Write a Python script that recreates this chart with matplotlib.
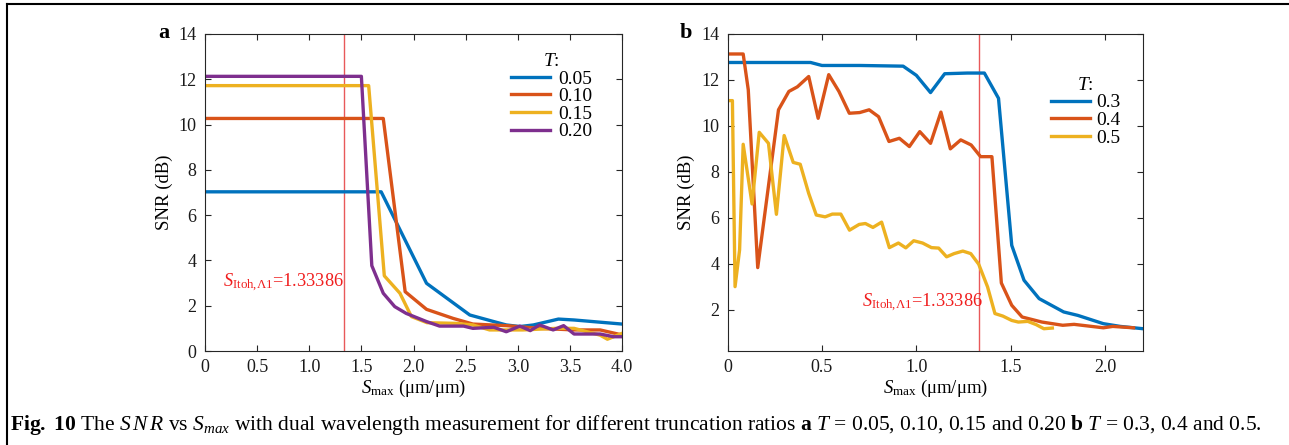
import numpy as np
import matplotlib
matplotlib.use("Agg")
import matplotlib.pyplot as plt
from matplotlib.lines import Line2D

plt.rcParams['font.family'] = ['Liberation Serif', 'DejaVu Serif']
plt.rcParams['mathtext.fontset'] = 'custom'
plt.rcParams['mathtext.rm'] = 'Liberation Serif'
plt.rcParams['mathtext.it'] = 'Liberation Serif:italic'
plt.rcParams['mathtext.bf'] = 'Liberation Serif:bold'

# ---- panel a data: T = 0.05, 0.10, 0.15, 0.20 ----
a_x_005 = [0, 1.69, 2.125, 2.54, 2.77, 2.89, 3.02, 3.15, 3.39, 3.54, 4.0]
a_y_005 = [7.03, 7.03, 2.99, 1.59, 1.30, 1.15, 1.08, 1.15, 1.41, 1.37, 1.19]

a_x_010 = [0, 1.71, 1.92, 2.125, 2.38, 2.57, 2.89, 3.21, 3.54, 3.79, 4.0]
a_y_010 = [10.27, 10.27, 2.62, 1.84, 1.44, 1.19, 1.12, 1.00, 0.93, 0.93, 0.71]

a_x_015 = [0, 1.57, 1.72, 1.87, 1.98, 2.13, 2.41, 2.57, 2.73, 3.05, 3.37,
           3.54, 3.79, 3.86, 4.0]
a_y_015 = [11.72, 11.72, 3.32, 2.55, 1.52, 1.25, 1.22, 1.15, 0.93, 0.93, 1.00,
           1.00, 0.70, 0.52, 0.78]

a_x_020 = [0, 1.50, 1.60, 1.71, 1.82, 1.93, 2.125, 2.25, 2.48, 2.57, 2.77,
           2.89, 3.02, 3.12, 3.21, 3.34, 3.44, 3.54, 3.79, 3.92, 4.0]
a_y_020 = [12.13, 12.13, 3.77, 2.55, 1.96, 1.66, 1.30, 1.10, 1.10, 1.00, 1.05,
           0.85, 1.10, 0.90, 1.15, 0.93, 1.12, 0.75, 0.75, 0.63, 0.63]

# ---- panel b data: T = 0.3, 0.4, 0.5 ----
b_x_03 = [0, 0.44, 0.50, 0.70, 0.93, 1.0, 1.075, 1.15, 1.27, 1.36, 1.435,
          1.505, 1.57, 1.65, 1.78, 1.855, 1.99, 2.08, 2.2]
b_y_03 = [12.76, 12.76, 12.63, 12.63, 12.6, 12.2, 11.45, 12.27, 12.3, 12.3, 11.2,
          4.8, 3.28, 2.48, 1.9, 1.75, 1.39, 1.27, 1.17]

b_x_04 = [0, 0.083, 0.11, 0.16, 0.27, 0.325, 0.37, 0.43, 0.48, 0.536, 0.59,
          0.645, 0.70, 0.75, 0.80, 0.855, 0.91, 0.963, 1.018, 1.075, 1.13,
          1.18, 1.235, 1.29, 1.34, 1.40, 1.45, 1.505, 1.56, 1.665, 1.775,
          1.835, 1.99, 2.04, 2.15]
b_y_04 = [13.13, 13.13, 11.57, 3.83, 10.7, 11.5, 11.7, 12.15, 10.33, 12.23, 11.5,
          10.55, 10.58, 10.7, 10.4, 9.32, 9.46, 9.1, 9.75, 9.24, 10.6,
          9.0, 9.39, 9.17, 8.66, 8.66, 3.16, 2.19, 1.68, 1.46, 1.32,
          1.36, 1.21, 1.27, 1.21]

b_x_05 = [0, 0.026, 0.04, 0.064, 0.083, 0.13, 0.168, 0.217, 0.259, 0.30,
          0.348, 0.385, 0.43, 0.47, 0.517, 0.555, 0.60, 0.646, 0.697, 0.73,
          0.77, 0.816, 0.857, 0.905, 0.944, 0.986, 1.033, 1.08, 1.118, 1.16,
          1.20, 1.246, 1.288, 1.33, 1.377, 1.416, 1.458, 1.505, 1.54, 1.59,
          1.634, 1.675, 1.72]
b_y_05 = [11.1, 11.1, 3.0, 4.6, 9.2, 6.6, 9.72, 9.24, 6.15, 9.58,
          8.41, 8.33, 7.06, 6.12, 6.04, 6.16, 6.16, 5.46, 5.71, 5.75,
          5.58, 5.81, 4.7, 4.9, 4.69, 5.0, 4.9, 4.7, 4.68, 4.3,
          4.44, 4.55, 4.44, 3.98, 2.99, 1.83, 1.72, 1.53, 1.46, 1.49,
          1.35, 1.17, 1.2]

s_itoh = 1.33386
a_labels = ['0.05', '0.10', '0.15', '0.20']
b_labels = ['0.3', '0.4', '0.5']
colors = ['#0072BD', '#D95319', '#EDB120', '#7E2F8E']

W, H = 1289, 445
fig = plt.figure(figsize=(W / 100, H / 100), dpi=100)

ax_a = fig.add_axes([205 / W, 1 - 351 / H, (622 - 205) / W, (351 - 34) / H])
ax_b = fig.add_axes([727.5 / W, 1 - 351 / H, (1143 - 727.5) / W, (351 - 34) / H])

lw = 2.4
for xs, ys, c, lab in zip([a_x_005, a_x_010, a_x_015, a_x_020],
                          [a_y_005, a_y_010, a_y_015, a_y_020], colors, a_labels):
    ax_a.plot(xs, ys, color=c, lw=lw, label=lab)

for xs, ys, c, lab in zip([b_x_03, b_x_04, b_x_05],
                          [b_y_03, b_y_04, b_y_05], colors, b_labels):
    ax_b.plot(xs, ys, color=c, lw=lw, label=lab)

itoh_label = r'$S_{\rm Itoh{,}\Lambda1}$=1.33386'
for ax in (ax_a, ax_b):
    ax.axvline(s_itoh, color='#E8595A', lw=1.0, zorder=0)

ax_a.text(0.17, 2.99, itoh_label, color='#F01E1E', fontsize=13.2, va='center', ha='left')
ax_b.text(0.71, 2.29, itoh_label, color='#F01E1E', fontsize=13.2, va='center', ha='left')

# axes styling (MATLAB-like box with inward ticks)
ax_a.set_xlim(0, 4.0)
ax_a.set_ylim(0, 14)
ax_a.set_xticks(np.arange(0, 4.01, 0.5))
ax_a.set_xticklabels(['0', '0.5', '1.0', '1.5', '2.0', '2.5', '3.0', '3.5', '4.0'])
ax_a.set_yticks(np.arange(0, 15, 2))

ax_b.set_xlim(0, 2.2)
ax_b.set_ylim(0.2, 14)
ax_b.set_xticks([0, 0.5, 1.0, 1.5, 2.0])
ax_b.set_xticklabels(['0', '0.5', '1.0', '1.5', '2.0'])
ax_b.set_yticks(np.arange(2, 15, 2))

for ax in (ax_a, ax_b):
    for sp in ax.spines.values():
        sp.set_color('#262626')
        sp.set_linewidth(0.8)
    ax.tick_params(direction='in', top=True, right=True, length=4, width=0.8,
                   color='#262626', labelsize=13, pad=6, labelcolor='#1a1a1a')
    ax.set_ylabel('SNR (dB)', fontsize=13.5, labelpad=4)
    ax.set_xlabel(r'$S_{\rm max}$ (μm/μm)', fontsize=13.5, labelpad=1)

leg_a = ax_a.legend(title='$T$:', frameon=False, fontsize=14, title_fontsize=14,
                    loc='upper right', bbox_to_anchor=(0.928, 0.94),
                    handlelength=2.0, handletextpad=0.4, labelspacing=0.0,
                    borderpad=0, borderaxespad=0)
leg_b = ax_b.legend(title='$T$:', frameon=False, fontsize=14, title_fontsize=14,
                    loc='upper right', bbox_to_anchor=(0.945, 0.865),
                    handlelength=2.0, handletextpad=0.3, labelspacing=0.0,
                    borderpad=0, borderaxespad=0)

# panel letters
fig.text(164 / W, 1 - 33 / H, 'a', fontsize=16, fontweight='bold', ha='center', va='center')
fig.text(686 / W, 1 - 33 / H, 'b', fontsize=16, fontweight='bold', ha='center', va='center')

# frame lines
fig.add_artist(Line2D([7 / W, 7 / W], [0, 1 - 4 / H], color='black', lw=1.5))
fig.add_artist(Line2D([7 / W, 1], [1 - 4 / H, 1 - 4 / H], color='black', lw=1.5))

caption = (r'$\mathbf{Fig.}$ $\mathbf{10}$ The $S\,N\,R$ vs $S_{max}$ with dual wavelength measurement '
           r'for different truncation ratios $\mathbf{a}$ $T$ = 0.05, 0.10, 0.15 and 0.20 '
           r'$\mathbf{b}$ $T$ = 0.3, 0.4 and 0.5.')
fig.text(10 / W, 1 - 430 / H, caption, fontsize=15.5, ha='left', va='baseline')

fig.savefig('out.png', dpi=100)
